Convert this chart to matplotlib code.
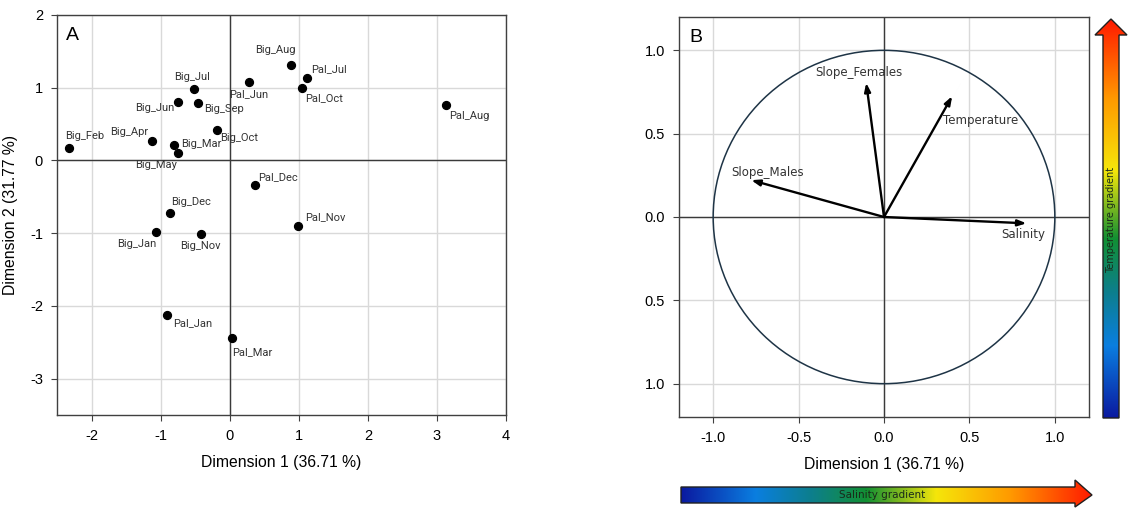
import numpy as np
import matplotlib
matplotlib.use("Agg")
import matplotlib.pyplot as plt
from matplotlib.patches import Polygon, Circle
from matplotlib.colors import LinearSegmentedColormap

# ---------------- data ----------------
site_months = ["Big_Feb", "Big_Apr", "Big_Mar", "Big_May", "Big_Jun", "Big_Jul",
               "Big_Sep", "Big_Oct", "Pal_Jun", "Big_Aug", "Pal_Jul", "Pal_Oct",
               "Pal_Aug", "Pal_Dec", "Big_Dec", "Pal_Nov", "Big_Jan", "Big_Nov",
               "Pal_Jan", "Pal_Mar"]
dim1 = [-2.32, -1.13, -0.81, -0.75, -0.75, -0.52, -0.46, -0.19, 0.28, 0.89,
        1.12, 1.05, 3.13, 0.36, -0.86, 0.99, -1.07, -0.42, -0.91, 0.03]
dim2 = [0.165, 0.27, 0.215, 0.096, 0.81, 0.977, 0.79, 0.417, 1.078, 1.307,
        1.133, 0.995, 0.761, -0.344, -0.716, -0.908, -0.99, -1.018, -2.119, -2.438]

variables = ["Slope_Females", "Temperature", "Slope_Males", "Salinity"]
var_d1 = [-0.104, 0.399, -0.777, 0.834]
var_d2 = [0.805, 0.725, 0.221, -0.038]

xticks_a = [-2, -1, 0, 1, 2, 3, 4]
yticks_a = [-3, -2, -1, 0, 1, 2]
ticks_b = [-1.0, -0.5, 0.0, 0.5, 1.0]
xticklabels_b = ["-1.0", "-0.5", "0.0", "0.5", "1.0"]
yticklabels_b = ["1.0", "0.5", "0.0", "0.5", "1.0"]

# label offsets (pixels) and alignment for panel A
label_style = {
    "Big_Feb": (-4, 12, "left"), "Big_Apr": (-3, 9, "right"), "Big_Mar": (7, 1, "left"),
    "Big_May": (-1, -12, "right"), "Big_Jun": (-4, -6, "right"), "Big_Jul": (-2, 12, "center"),
    "Big_Sep": (6, -6, "left"), "Big_Oct": (4, -8, "left"), "Pal_Jun": (0, -12, "center"),
    "Big_Aug": (4, 15, "right"), "Pal_Jul": (4, 9, "left"), "Pal_Oct": (3, -10, "left"),
    "Pal_Aug": (3, -11, "left"), "Pal_Dec": (4, 8, "left"), "Big_Dec": (1, 11, "left"),
    "Pal_Nov": (7, 9, "left"), "Big_Jan": (1, -12, "right"), "Big_Nov": (0, -12, "center"),
    "Pal_Jan": (6, -9, "left"), "Pal_Mar": (0, -14, "left"),
}
# label positions (data) for panel B
var_label_style = {
    "Slope_Females": (-0.149, 0.869, "center"), "Temperature": (0.348, 0.58, "left"),
    "Slope_Males": (-0.892, 0.269, "left"), "Salinity": (0.945, -0.106, "right"),
}

plt.rcParams["font.family"] = ["Liberation Sans", "DejaVu Sans"]
plt.rcParams["axes.unicode_minus"] = False
W, H = 1128, 508
fig = plt.figure(figsize=(W / 100, H / 100), dpi=100)

spine_c = "#404040"
grid_c = "#d9d9d9"
zero_c = "#3a3a3a"


def style_axes(ax):
    for s in ax.spines.values():
        s.set_color(spine_c)
        s.set_linewidth(1.0)
    ax.grid(True, color=grid_c, lw=1.0)
    ax.set_axisbelow(True)
    ax.tick_params(direction="out", length=4, width=0.8, color=spine_c,
                   labelsize=10.5, pad=6)
    ax.axhline(0, color=zero_c, lw=1.0, zorder=1)
    ax.axvline(0, color=zero_c, lw=1.0, zorder=1)


# ---------------- panel A ----------------
axA = fig.add_axes([57 / W, 1 - 415 / H, 449 / W, 400 / H])
style_axes(axA)
axA.set_xlim(-2.5, 4)
axA.set_ylim(-3.5, 2)
axA.set_xticks(xticks_a)
axA.set_yticks(yticks_a)
axA.scatter(dim1, dim2, s=32, color="black", zorder=3)
for name, x, y in zip(site_months, dim1, dim2):
    dx, dy, ha = label_style[name]
    axA.annotate(name, (x, y), xytext=(dx, dy), textcoords="offset pixels",
                 ha=ha, va="center", fontsize=8, color="#333333",
                 family=["Roboto", "DejaVu Sans"], zorder=4)
axA.set_xlabel("Dimension 1 (36.71 %)", fontsize=11.3, labelpad=9)
axA.set_ylabel("Dimension 2 (31.77 %)", fontsize=11.3, labelpad=9)
axA.text(0.02, 0.97, "A", transform=axA.transAxes, fontsize=14, va="top", ha="left")

# ---------------- panel B ----------------
axB = fig.add_axes([679 / W, 1 - 417 / H, 410 / W, 400 / H])
style_axes(axB)
axB.set_xlim(-1.2, 1.2)
axB.set_ylim(-1.2, 1.2)
axB.set_xticks(ticks_b)
axB.set_xticklabels(xticklabels_b)
axB.set_yticks(ticks_b)
axB.set_yticklabels(yticklabels_b)
axB.add_patch(Circle((0, 0), 1.0, fill=False, color="#1e3446", lw=1.1, zorder=2))
for name, x, y in zip(variables, var_d1, var_d2):
    axB.annotate("", xy=(x, y), xytext=(0, 0),
                 arrowprops=dict(arrowstyle="-|>,head_length=0.5,head_width=0.18",
                                 color="black", lw=1.7, shrinkA=0, shrinkB=0),
                 zorder=3)
    lx, ly, ha = var_label_style[name]
    axB.text(lx, ly, name, ha=ha, va="center", fontsize=8.5, color="#333333",
             family=["DejaVu Sans"], zorder=4)
axB.set_xlabel("Dimension 1 (36.71 %)", fontsize=11.3, labelpad=9)
axB.text(0.025, 0.97, "B", transform=axB.transAxes, fontsize=14, va="top", ha="left")

# ---------------- gradient arrows (overlay) ----------------
ov = fig.add_axes([0, 0, 1, 1])
ov.set_xlim(0, W)
ov.set_ylim(H, 0)
ov.axis("off")

grad = LinearSegmentedColormap.from_list(
    "grad", [(0.0, "#0a1aa0"), (0.18, "#0a7ee0"), (0.32, "#0d7f8a"),
             (0.45, "#129033"), (0.62, "#f5e60a"), (0.8, "#ff9a00"), (1.0, "#ff1a00")])

# vertical temperature arrow
vpoly = [(1103, 418), (1119, 418), (1119, 35), (1127, 35), (1111, 19),
         (1095, 35), (1103, 35)]
img_v = np.linspace(1, 0, 256).reshape(-1, 1)
im = ov.imshow(img_v, cmap=grad, extent=(1094, 1128, 418, 19), aspect="auto", zorder=1)
pv = Polygon(vpoly, closed=True, fc="none", ec="#202020", lw=1.0, zorder=2)
ov.add_patch(pv)
im.set_clip_path(pv)
ov.text(1111, 220, "Temperature gradient", rotation=90, ha="center", va="center",
        fontsize=7, color="#1a2a1a", family=["DejaVu Sans"], zorder=3)

# horizontal salinity arrow
hpoly = [(681, 487), (1075, 487), (1075, 480), (1092, 495), (1075, 507),
         (1075, 503), (681, 503)]
img_h = np.linspace(0, 1, 256).reshape(1, -1)
im2 = ov.imshow(img_h, cmap=grad, extent=(681, 1093, 508, 479), aspect="auto", zorder=1)
ph = Polygon(hpoly, closed=True, fc="none", ec="#202020", lw=1.0, zorder=2)
ov.add_patch(ph)
im2.set_clip_path(ph)
ov.text(882, 495, "Salinity gradient", ha="center", va="center",
        fontsize=7.5, color="#1a2a1a", family=["DejaVu Sans"], zorder=3)

fig.savefig("out.png", dpi=100)
